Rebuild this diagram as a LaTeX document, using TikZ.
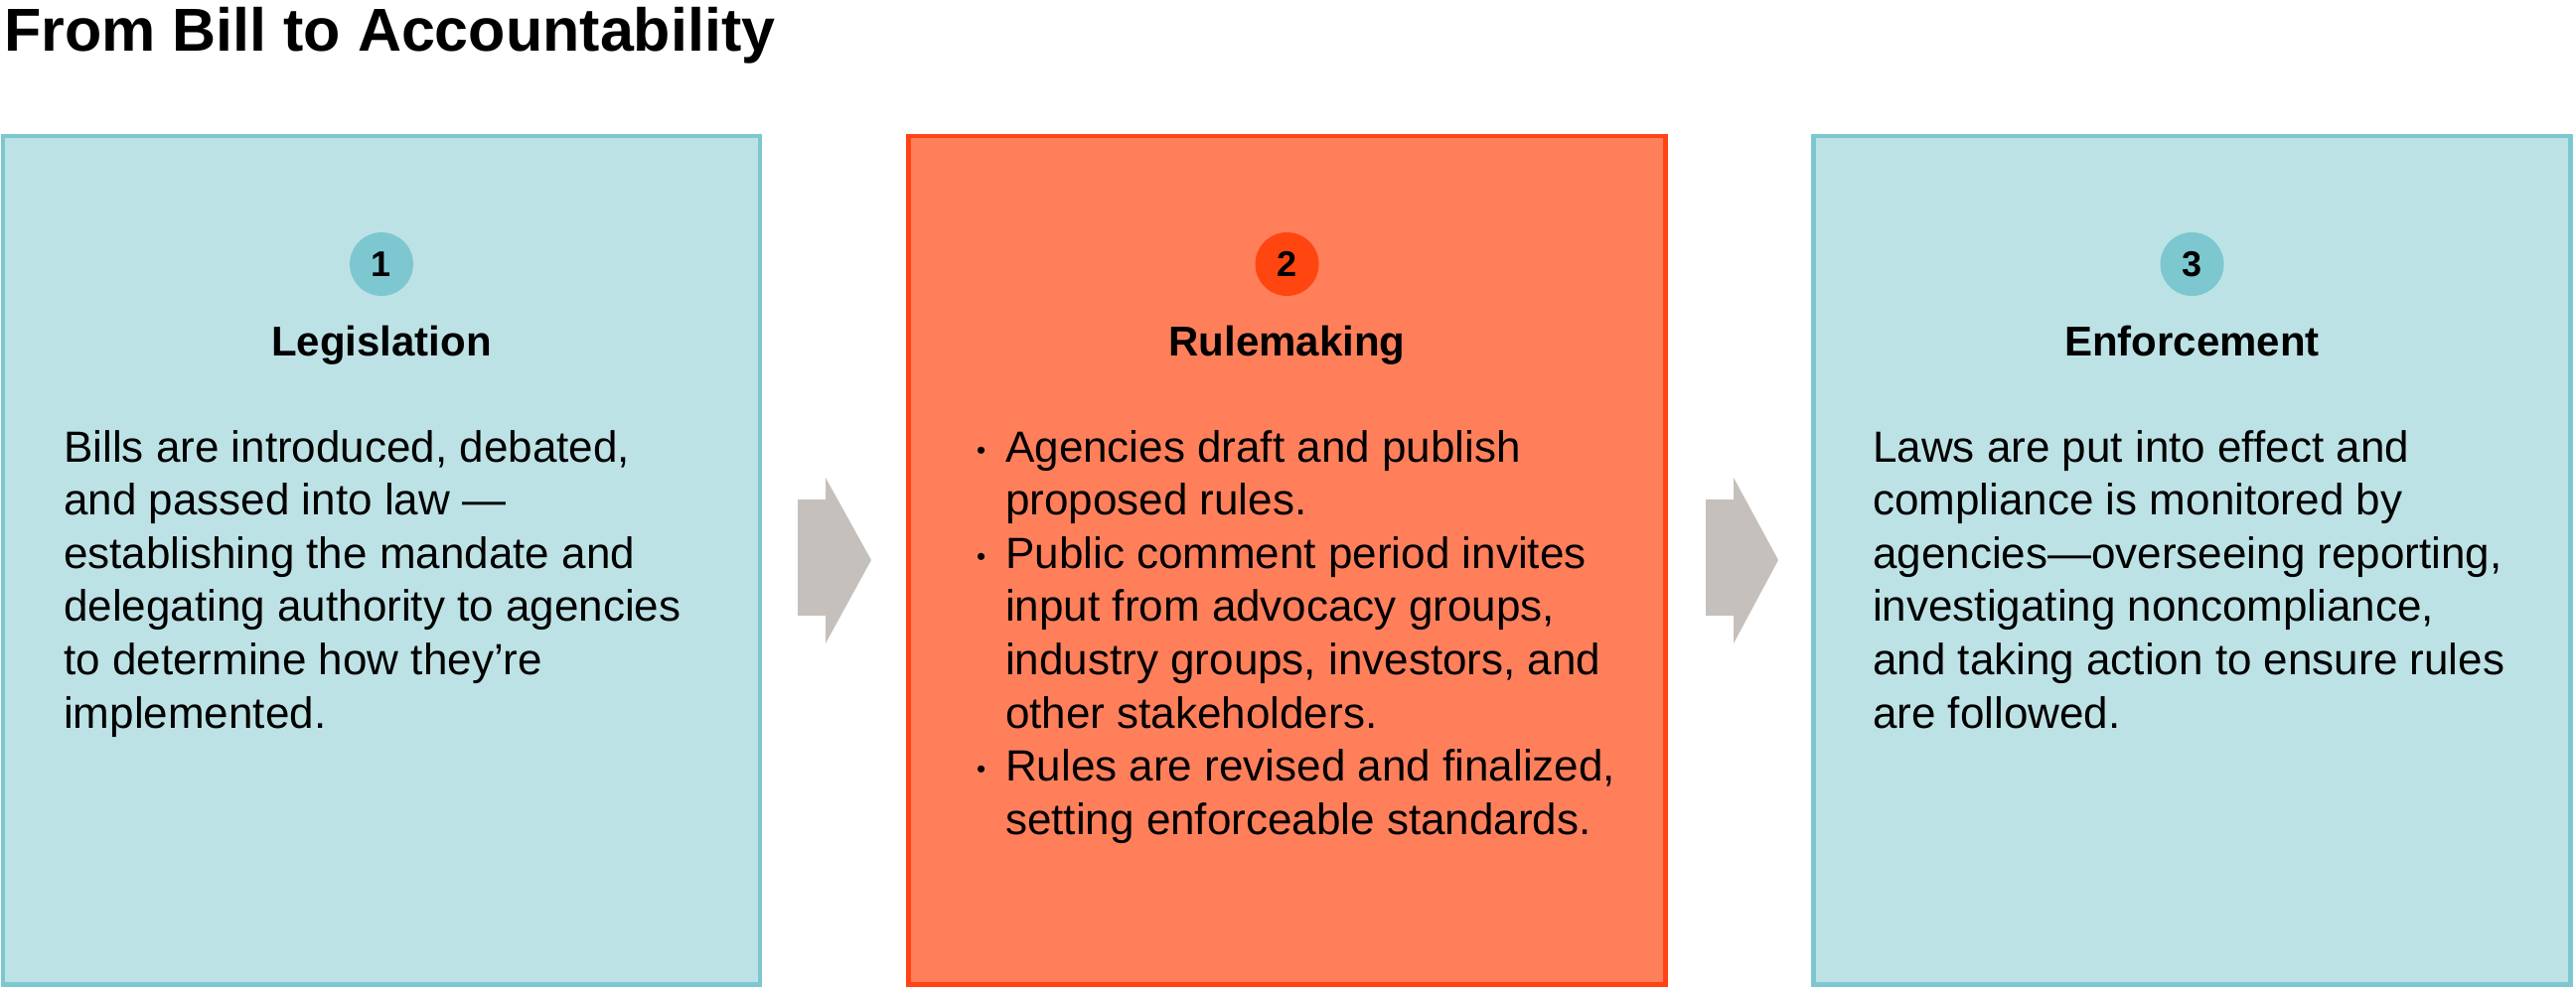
\documentclass[tikz,border=0pt]{standalone}
\usepackage{fontspec}
\setmainfont{Liberation Sans}
\usetikzlibrary{positioning}
\definecolor{bluefill}{HTML}{BDE2E5}
\definecolor{blueline}{HTML}{7DC8D0}
\definecolor{orfill}{HTML}{FF7F5B}
\definecolor{orline}{HTML}{FF4314}
\definecolor{orcirc}{HTML}{FF4510}
\definecolor{arrgray}{HTML}{C5C0BB}
\tikzset{
  panel/.style={rectangle, line width=4.5pt, minimum width=762pt, minimum height=854.5pt, inner sep=0pt},
  bluepanel/.style={panel, fill=bluefill, draw=blueline},
  orpanel/.style={panel, fill=orfill, draw=orline},
  numcirc/.style={circle, minimum size=64pt, inner sep=0pt, font=\fontsize{36pt}{36pt}\selectfont\bfseries},
  headtxt/.style={anchor=base, inner sep=0pt, font=\fontsize{42pt}{42pt}\selectfont\bfseries},
  bodytxt/.style={anchor=base west, inner sep=0pt, font=\fontsize{44pt}{53.6pt}\selectfont},
  flowarrow/.style={fill=arrgray}
}
\newcommand{\blt}{\makebox[29pt][l]{\raisebox{3pt}{\fontsize{26pt}{26pt}\selectfont•}}}
\newcommand{\bind}{\hspace*{29pt}}
\begin{document}
\begin{tikzpicture}[x=1pt,y=-1pt]
\useasboundingbox (0,0) rectangle (2593,996);
% title
\node[anchor=base west, inner sep=0pt, font=\fontsize{61pt}{61pt}\selectfont\bfseries] (title) at (4,51) {From Bill to Accountability};
% panels
\node[bluepanel] (p1) at (384,564.25) {};
\node[orpanel] (p2) at (1295.5,564.25) {};
\node[bluepanel] (p3) at (2206.5,564.25) {};
% number circles
\node[numcirc, fill=blueline] (c1) at (384,266) {1};
\node[numcirc, fill=orcirc] (c2) at (1295.5,266) {2};
\node[numcirc, fill=blueline] (c3) at (2206.5,266) {3};
% headings
\node[headtxt] (h1) at (384,358) {Legislation};
\node[headtxt] (h2) at (1295.5,358) {Rulemaking};
\node[headtxt] (h3) at (2206.5,358) {Enforcement};
% bodies
\node[bodytxt] (t1) at (64,465) {\parbox[t]{690pt}{\raggedright
Bills are introduced, debated,\\
and passed into law —\\
establishing the mandate and\\
delegating authority to agencies\\
to determine how they’re\\
implemented.}};
\node[bodytxt] (t2) at (983,465) {\parbox[t]{690pt}{\raggedright
\blt Agencies draft and publish\\
\bind proposed rules.\\
\blt Public comment period invites\\
\bind input from advocacy groups,\\
\bind industry groups, investors, and\\
\bind other stakeholders.\\
\blt Rules are revised and finalized,\\
\bind setting enforceable standards.}};
\node[bodytxt] (t3) at (1885,465) {\parbox[t]{690pt}{\raggedright
Laws are put into effect and\\
compliance is monitored by\\
agencies—overseeing reporting,\\
investigating noncompliance,\\
and taking action to ensure rules\\
are followed.}};
% arrows between panels
\fill[flowarrow] (803,503) -- (831,503) -- (831,481) -- (877,564) -- (831,648) -- (831,620) -- (803,620) -- cycle;
\fill[flowarrow] (1717,503) -- (1745,503) -- (1745,481) -- (1790,564) -- (1745,648) -- (1745,620) -- (1717,620) -- cycle;
\end{tikzpicture}
\end{document}
